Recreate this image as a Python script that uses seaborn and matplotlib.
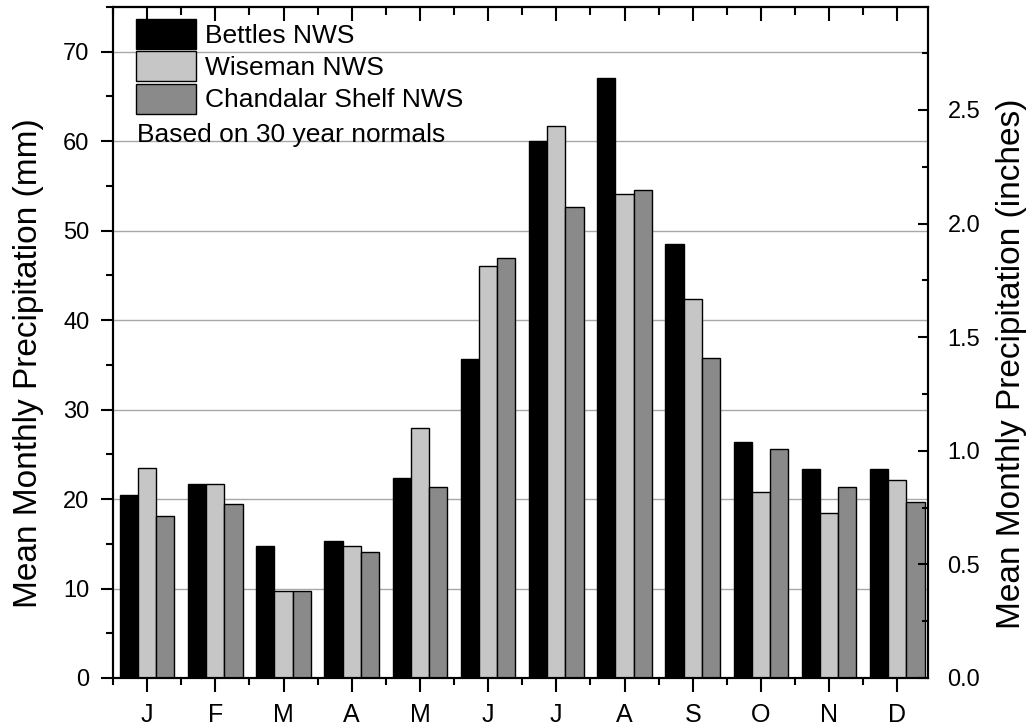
import matplotlib
matplotlib.use("Agg")
import matplotlib.pyplot as plt
from matplotlib.ticker import MultipleLocator, FixedLocator, NullFormatter, FormatStrFormatter
import seaborn as sns
import pandas as pd

months = ["J", "F", "M", "A", "M", "J", "J", "A", "S", "O", "N", "D"]
stations = ["Bettles NWS", "Wiseman NWS", "Chandalar Shelf NWS"]
bettles = [20.4, 21.7, 14.8, 15.3, 22.4, 35.6, 60.0, 67.1, 48.5, 26.4, 23.4, 23.4]
wiseman = [23.5, 21.7, 9.7, 14.8, 27.9, 46.1, 61.7, 54.1, 42.4, 20.8, 18.4, 22.1]
chandalar = [18.1, 19.4, 9.7, 14.1, 21.4, 47.0, 52.6, 54.6, 35.8, 25.6, 21.3, 19.7]
note = "Based on 30 year normals"

rows = []
for vals, name in zip([bettles, wiseman, chandalar], stations):
    for i, v in enumerate(vals):
        rows.append({"month": i, "station": name, "mm": v})
df = pd.DataFrame(rows)

sns.set_theme(style="ticks")
plt.rcParams["font.family"] = ["Liberation Sans", "DejaVu Sans"]
plt.rcParams["text.color"] = "black"
plt.rcParams["axes.labelcolor"] = "black"
plt.rcParams["xtick.color"] = "black"
plt.rcParams["ytick.color"] = "black"
plt.rcParams["xtick.labelcolor"] = "black"
plt.rcParams["ytick.labelcolor"] = "black"

fig = plt.figure(figsize=(10.32, 7.28), dpi=100)
ax = fig.add_axes([113 / 1032, 1 - 678 / 728, 815 / 1032, 671 / 728])

palette = ["#000000", "#c6c6c6", "#8a8a8a"]
sns.barplot(data=df, x="month", y="mm", hue="station", hue_order=stations,
            palette=palette, edgecolor="black", linewidth=1.0, width=0.8,
            saturation=1, ax=ax, legend=True)

ax.set_xlim(-0.5, 11.45)
ax.set_ylim(0, 75)
ax.yaxis.set_major_locator(MultipleLocator(10))
ax.yaxis.set_minor_locator(MultipleLocator(5))
ax.set_xticks(range(12))
ax.set_xticklabels(months)
ax.xaxis.set_minor_locator(FixedLocator([i + 0.5 for i in range(-1, 12)]))
ax.set_xlabel("")
ax.set_ylabel("Mean Monthly Precipitation (mm)", fontsize=24, color="black")
ax.yaxis.set_label_coords(-0.085, 0.469)
ax.grid(axis="y", which="major", color="#a8a8a8", linewidth=1.0)
ax.set_axisbelow(True)

ax.tick_params(axis="x", which="major", labelsize=18, direction="out",
               length=10, width=1.5, color="black", labelcolor="black", pad=8,
               bottom=True, top=False)
ax.tick_params(axis="x", which="minor", direction="out", length=5,
               width=1.5, color="black", bottom=True, top=False)
ax.tick_params(axis="y", which="major", labelsize=17, direction="out",
               length=9, width=1.5, color="black", labelcolor="black", pad=8,
               left=True, right=False)
ax.tick_params(axis="y", which="minor", direction="out", length=5,
               width=1.5, color="black", left=True, right=False)
for s in ax.spines.values():
    s.set_visible(True)
    s.set_linewidth(1.5)
    s.set_color("black")

# top ticks (inward)
top = ax.secondary_xaxis("top")
top.set_xticks(range(12))
top.xaxis.set_minor_locator(FixedLocator([i + 0.5 for i in range(-1, 12)]))
top.xaxis.set_major_formatter(NullFormatter())
top.tick_params(axis="x", which="major", direction="in", length=10, width=1.5)
top.tick_params(axis="x", which="minor", direction="in", length=6, width=1.5)
top.spines["top"].set_linewidth(1.5)

# right axis in inches
ax2 = ax.twinx()
ax2.set_ylim(0, 75 / 25.4)
ax2.yaxis.set_major_locator(MultipleLocator(0.5))
ax2.yaxis.set_minor_locator(MultipleLocator(0.25))
ax2.yaxis.set_major_formatter(FormatStrFormatter("%.1f"))
ax2.tick_params(axis="y", which="major", direction="in", length=7, width=1.5,
                labelsize=17, labelcolor="black", pad=14, right=True, left=False)
ax2.tick_params(axis="y", which="minor", direction="in", length=4, width=1.5,
                right=True, left=False)
ax2.set_ylabel("Mean Monthly Precipitation (inches)", fontsize=24, color="black")
ax2.yaxis.set_label_coords(1.083, 0.469)
ax2.grid(False)
for s in ax2.spines.values():
    s.set_linewidth(1.5)
    s.set_color("black")

handles, labels = ax.get_legend_handles_labels()
leg = ax.legend(handles, labels, loc="upper left",
                bbox_to_anchor=((136 - 113) / 815, (678 - 19) / 671),
                frameon=False, fontsize=19, handlelength=2.27, handleheight=1.37,
                labelspacing=0.09, handletextpad=0.34, borderpad=0,
                borderaxespad=0, labelcolor="black")
ax.text((137 - 113) / 815, (678 - 142) / 671, note, transform=ax.transAxes,
        fontsize=19, ha="left", va="baseline", color="black")

fig.savefig("out.png", dpi=100)
